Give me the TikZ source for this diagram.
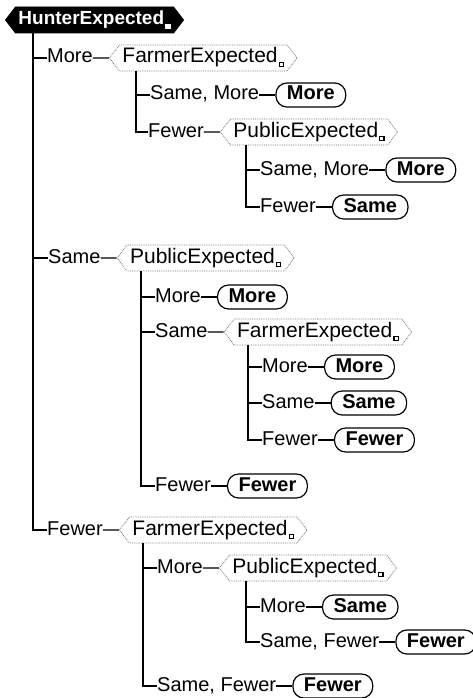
\documentclass[tikz,border=0pt]{standalone}
\usepackage{fontspec}
\setmainfont{Liberation Sans}
\usepackage{tikz}
\usetikzlibrary{positioning, shapes.symbols}

% small square after a chance variable's name
\newcommand{\cellmark}[2]{\kern1pt\raisebox{-3pt}{\setlength{\fboxsep}{0pt}\setlength{\fboxrule}{1.2pt}\fcolorbox{#1}{#2}{\rule{0pt}{3pt}\rule{3pt}{0pt}}}}

\begin{document}
\begin{tikzpicture}[
    x=1pt, y=-1pt,
    font=\fontsize{20}{24}\selectfont,
    chance/.style={signal, signal to=east and west, signal pointer angle=105,
        draw=black!55, densely dotted, line width=0.8pt, fill=white,
        minimum height=26pt, inner xsep=3pt, inner ysep=0pt,
        text height=14pt, text depth=4pt, font=\fontsize{21}{24}\selectfont},
    rootnode/.style={chance, draw=black, solid, fill=black, text=white,
        font=\fontsize{19}{24}\selectfont\bfseries},
    outcome/.style={draw, solid, line width=1.2pt, rounded corners=11pt, fill=white,
        minimum height=24pt, inner xsep=11pt, inner ysep=0pt,
        text height=14pt, text depth=4pt, font=\fontsize{20}{24}\selectfont\bfseries},
    branch/.style={inner sep=0pt, text height=14pt, text depth=4pt, anchor=west},
    tree/.style={line width=1.2pt}
]
\useasboundingbox (0,0) rectangle (472,698);

% Root
\node[rootnode, anchor=west] (hunter) at (5,20) {HunterExpected\cellmark{white}{white}};

% Hunter: More
\node[branch] (m1) at (47,58) {More};
\node[chance, right=16pt of m1] (farmerA) {FarmerExpected\cellmark{black}{white}};
\node[branch] (sm2) at (150,95) {Same, More};
\node[outcome, right=16pt of sm2] (out2) {More};
\node[branch] (f3) at (148,132) {Fewer};
\node[chance, right=16pt of f3] (publicB) {PublicExpected\cellmark{black}{white}};
\node[branch] (sm4) at (260,170) {Same, More};
\node[outcome, right=16pt of sm4] (out4) {More};
\node[branch] (f5) at (260,207) {Fewer};
\node[outcome, right=16pt of f5] (out5) {Same};

% Hunter: Same
\node[branch] (s6) at (48,258) {Same};
\node[chance, right=16pt of s6] (publicC) {PublicExpected\cellmark{black}{white}};
\node[branch] (m7) at (155,297) {More};
\node[outcome, right=16pt of m7] (out7) {More};
\node[branch] (s8) at (155,332) {Same};
\node[chance, right=16pt of s8] (farmerD) {FarmerExpected\cellmark{black}{white}};
\node[branch] (m9) at (262,367) {More};
\node[outcome, right=16pt of m9] (out9) {More};
\node[branch] (s10) at (262,403) {Same};
\node[outcome, right=16pt of s10] (out10) {Same};
\node[branch] (f11) at (262,440) {Fewer};
\node[outcome, right=16pt of f11] (out11) {Fewer};
\node[branch] (f12) at (155,486) {Fewer};
\node[outcome, right=16pt of f12] (out12) {Fewer};

% Hunter: Fewer
\node[branch] (f13) at (47,530) {Fewer};
\node[chance, right=16pt of f13] (farmerE) {FarmerExpected\cellmark{black}{white}};
\node[branch] (m14) at (157,568) {More};
\node[chance, right=16pt of m14] (publicF) {PublicExpected\cellmark{black}{white}};
\node[branch] (m15) at (260,607) {More};
\node[outcome, right=16pt of m15] (out15) {Same};
\node[branch] (sf16) at (260,642) {Same, Fewer};
\node[outcome, right=16pt of sf16] (out16) {Fewer};
\node[branch] (sf17) at (157,686) {Same, Fewer};
\node[outcome, right=16pt of sf17] (out17) {Fewer};

% trunks sit 14pt left of the first child label
\coordinate (t0) at ([xshift=-14pt]m1.west);
\coordinate (tA) at ([xshift=-14pt]sm2.west);
\coordinate (tB) at ([xshift=-14pt]sm4.west);
\coordinate (tC) at ([xshift=-14pt]m7.west);
\coordinate (tD) at ([xshift=-14pt]m9.west);
\coordinate (tE) at ([xshift=-14pt]m14.west);
\coordinate (tF) at ([xshift=-14pt]m15.west);

% Branch lines
\draw[tree] (hunter.south -| t0) |- (m1.west) (hunter.south -| t0) |- (s6.west)
    (hunter.south -| t0) |- (f13.west);
\draw[tree] (farmerA.south -| tA) |- (sm2.west) (farmerA.south -| tA) |- (f3.west);
\draw[tree] (publicB.south -| tB) |- (sm4.west) (publicB.south -| tB) |- (f5.west);
\draw[tree] (publicC.south -| tC) |- (m7.west) (publicC.south -| tC) |- (s8.west)
    (publicC.south -| tC) |- (f12.west);
\draw[tree] (farmerD.south -| tD) |- (m9.west) (farmerD.south -| tD) |- (s10.west)
    (farmerD.south -| tD) |- (f11.west);
\draw[tree] (farmerE.south -| tE) |- (m14.west) (farmerE.south -| tE) |- (sf17.west);
\draw[tree] (publicF.south -| tF) |- (m15.west) (publicF.south -| tF) |- (sf16.west);

% Label to node dashes
\draw[tree] (m1) -- (farmerA);
\draw[tree] (sm2) -- (out2);
\draw[tree] (f3) -- (publicB);
\draw[tree] (sm4) -- (out4);
\draw[tree] (f5) -- (out5);
\draw[tree] (s6) -- (publicC);
\draw[tree] (m7) -- (out7);
\draw[tree] (s8) -- (farmerD);
\draw[tree] (m9) -- (out9);
\draw[tree] (s10) -- (out10);
\draw[tree] (f11) -- (out11);
\draw[tree] (f12) -- (out12);
\draw[tree] (f13) -- (farmerE);
\draw[tree] (m14) -- (publicF);
\draw[tree] (m15) -- (out15);
\draw[tree] (sf16) -- (out16);
\draw[tree] (sf17) -- (out17);

\end{tikzpicture}
\end{document}
